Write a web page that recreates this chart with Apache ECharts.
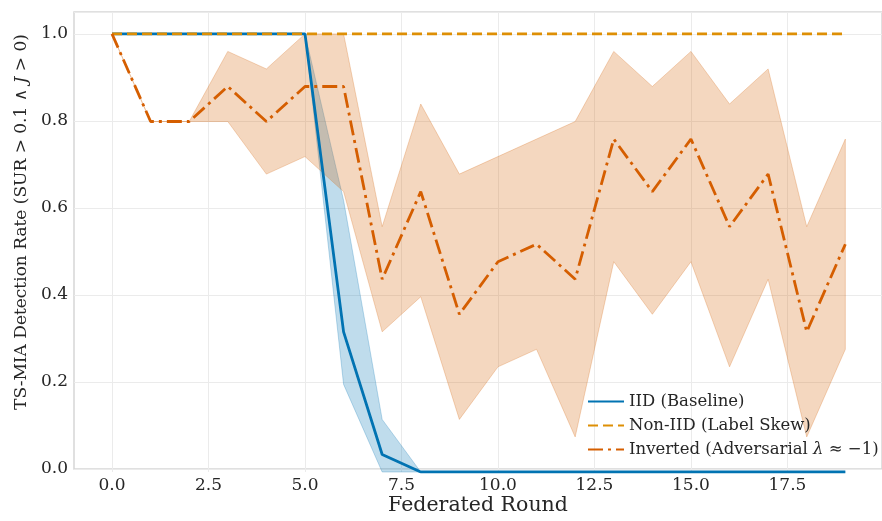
<!DOCTYPE html>
<html><head><meta charset="utf-8">
<script src="https://cdn.jsdelivr.net/npm/echarts@6/dist/echarts.min.js"></script>
<style>html,body{margin:0;padding:0;background:#fff}#c{width:882px;height:521px}</style>
</head><body><div id="c"></div>
<script>
var rounds = [0,1,2,3,4,5,6,7,8,9,10,11,12,13,14,15,16,17,18,19];
var iidMean  = [1,1,1,1,1,1,0.32,0.04,0,0,0,0,0,0,0,0,0,0,0,0];
var iidLow   = [1,1,1,1,1,1,0.20,0.00,0,0,0,0,0,0,0,0,0,0,0,0];
var iidHigh  = [1,1,1,1,1,1,0.62,0.12,0,0,0,0,0,0,0,0,0,0,0,0];
var nonIidMean = [1,1,1,1,1,1,1,1,1,1,1,1,1,1,1,1,1,1,1,1];
var invMean = [1.0,0.8,0.8,0.88,0.80,0.88,0.88,0.44,0.64,0.36,0.48,0.52,0.44,0.76,0.64,0.76,0.56,0.68,0.32,0.52];
var invHigh = [1.0,0.8,0.8,0.96,0.92,1.00,1.00,0.56,0.84,0.68,0.72,0.76,0.80,0.96,0.88,0.96,0.84,0.92,0.56,0.76];
var invLow  = [1.0,0.8,0.8,0.80,0.68,0.72,0.64,0.32,0.40,0.12,0.24,0.28,0.08,0.48,0.36,0.48,0.24,0.44,0.08,0.28];
var yTicks = [0,0.2,0.4,0.6,0.8,1.0];
var xTicks = [0,2.5,5,7.5,10,12.5,15,17.5];
var names = ['IID (Baseline)','Non-IID (Label Skew)','Inverted (Adversarial λ ≈ −1)'];

function pts(ys){ return rounds.map(function(r,i){ return [r, ys[i]]; }); }
function bandData(lo,hi){ return rounds.map(function(r,i){ return [r, lo[i], hi[i]]; }); }

var FONT = 'DejaVu Serif';
var TXT = '#262626';
var BLUE = '#0173b2', ORANGE = '#de8f05', RED = '#d55e00';

function bandSeries(lo, hi, fill){
  return {
    type:'custom', xAxisIndex:1, yAxisIndex:1, silent:true, z:1,
    data: bandData(lo,hi),
    encode:{x:0, y:[1,2]},
    renderItem:function(params, api){
      if(params.dataIndex !== 0) return null;
      var top = [], bot = [];
      for(var i=0;i<rounds.length;i++){
        top.push(api.coord([rounds[i], hi[i]]));
        bot.push(api.coord([rounds[i], lo[i]]));
      }
      var poly = top.concat(bot.reverse());
      return {type:'polygon', shape:{points:poly},
        style:{fill:fill, stroke:fill, lineWidth:1}};
    }
  };
}

var chart = echarts.init(document.getElementById('c'));
chart.setOption({
  animation:false,
  textStyle:{fontFamily:FONT},
  grid:[
    {left:74, top:12, right:-8, bottom:49, show:true, borderColor:'#d6d6d6', borderWidth:1.5, backgroundColor:'transparent'},
    {left:112, top:12, right:-8, bottom:49}
  ],
  xAxis:[
    {gridIndex:0, type:'value', min:0, max:1, axisLine:{show:false}, axisTick:{show:false}, axisLabel:{show:false}, splitLine:{show:false},
     name:'Federated Round', nameLocation:'middle', nameGap:26, nameTextStyle:{fontFamily:FONT, fontSize:20.5, color:TXT}},
    {gridIndex:1, type:'value', min:0, max:19.95, interval:2.5,
     axisLine:{show:false}, axisTick:{show:false},
     axisLabel:{fontFamily:FONT, fontSize:17, color:TXT, margin:5, showMaxLabel:false,
       formatter:function(v){ return xTicks.indexOf(v)>=0 ? v.toFixed(1) : ''; }},
     splitLine:{show:true, lineStyle:{color:'#ebebeb', width:1}}}
  ],
  yAxis:[
    {gridIndex:0, type:'value', min:0, max:1.05, interval:0.2,
     axisLine:{show:false}, axisTick:{show:false},
     axisLabel:{fontFamily:FONT, fontSize:17, color:TXT, margin:6, showMaxLabel:false,
       formatter:function(v){ return yTicks.indexOf(Math.round(v*10)/10)>=0 && Math.abs(v-Math.round(v*10)/10)<1e-9 ? v.toFixed(1) : ''; }},
     splitLine:{show:true, lineStyle:{color:'#ebebeb', width:1}},
     name:'{a|TS-MIA Detection Rate (SUR > 0.1 ∧ }{i|J}{a| > 0)}', nameLocation:'middle', nameGap:34,
     nameTextStyle:{fontFamily:FONT, fontSize:17, color:TXT, padding:[0,0,0,37],
       rich:{a:{fontFamily:FONT, fontSize:17, color:TXT}, i:{fontFamily:FONT, fontStyle:'italic', fontSize:17, color:TXT}}}},
    {gridIndex:1, type:'value', min:0, max:1.05, show:false, splitLine:{show:false}}
  ],
  legend:{
    data:names, orient:'vertical', left:582, top:388, itemWidth:36, itemHeight:14, itemGap:7,
    itemStyle:{opacity:0},
    textStyle:{fontFamily:FONT, fontSize:16.5, color:TXT,
      rich:{n:{fontFamily:FONT, fontSize:16.5, color:TXT}, i:{fontFamily:FONT, fontStyle:'italic', fontSize:16.5, color:TXT}}},
    formatter:function(n){
      if(n===names[2]) return '{n|Inverted (Adversarial }{i|λ}{n| ≈ −1)}';
      return n;
    }
  },
  series:[
    bandSeries(iidLow, iidHigh, 'rgba(1,115,178,0.25)'),
    bandSeries(invLow, invHigh, 'rgba(213,94,0,0.25)'),
    {type:'line', name:names[0], xAxisIndex:1, yAxisIndex:1, data:pts(iidMean), symbol:'none', color:BLUE, lineStyle:{width:2.8, color:BLUE}, z:3},
    {type:'line', name:names[1], xAxisIndex:1, yAxisIndex:1, data:pts(nonIidMean), symbol:'none', color:ORANGE, lineStyle:{width:2.8, color:ORANGE, type:[10,5]}, z:4},
    {type:'line', name:names[2], xAxisIndex:1, yAxisIndex:1, data:pts(invMean), symbol:'none', color:RED, lineStyle:{width:2.8, color:RED, type:[15,5,3,5]}, z:5}
  ]
});
</script></body></html>
